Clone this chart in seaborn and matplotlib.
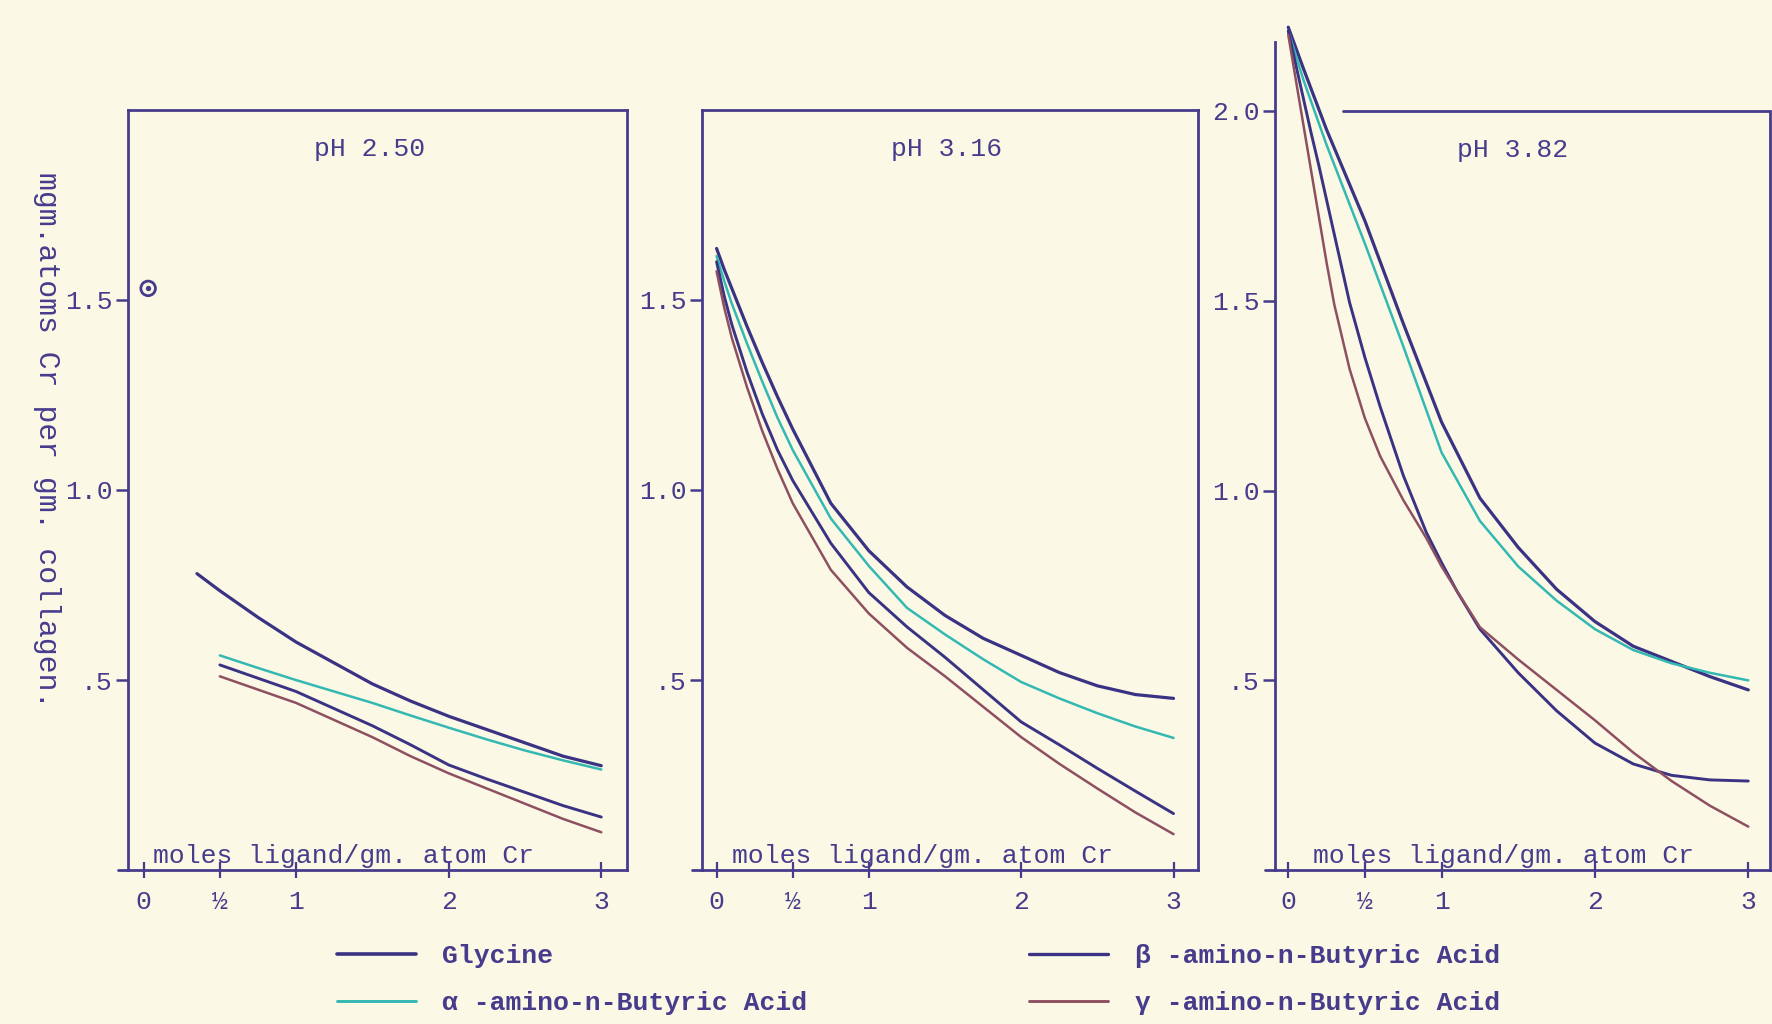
import numpy as np
import pandas as pd
import matplotlib
matplotlib.use("Agg")
import matplotlib.pyplot as plt
from matplotlib.lines import Line2D
import seaborn as sns

# ---------------- data ----------------
ligands = ["Glycine", "α -amino-n-Butyric Acid", "β -amino-n-Butyric Acid", "γ -amino-n-Butyric Acid"]
panel_titles = ["pH 2.50", "pH 3.16", "pH 3.82"]

# pH 2.50
p1_gly_x = [0.35, 0.5, 0.75, 1.0, 1.25, 1.5, 1.75, 2.0, 2.25, 2.5, 2.75, 3.0]
p1_gly_y = [0.78, 0.735, 0.665, 0.60, 0.545, 0.49, 0.445, 0.405, 0.37, 0.335, 0.30, 0.275]
p1_x = [0.5, 0.75, 1.0, 1.25, 1.5, 1.75, 2.0, 2.25, 2.5, 2.75, 3.0]
p1_alpha_y = [0.565, 0.532, 0.50, 0.47, 0.44, 0.407, 0.375, 0.344, 0.315, 0.289, 0.265]
p1_beta_y = [0.54, 0.505, 0.47, 0.425, 0.38, 0.33, 0.277, 0.24, 0.205, 0.17, 0.14]
p1_gamma_y = [0.51, 0.475, 0.44, 0.395, 0.35, 0.30, 0.255, 0.215, 0.175, 0.135, 0.10]
p1_point_x = [0.03]
p1_point_y = [1.53]

# pH 3.16
p2_x = [0.0, 0.05, 0.1, 0.2, 0.3, 0.4, 0.5, 0.75, 1.0, 1.25, 1.5, 1.75, 2.0, 2.25, 2.5, 2.75, 3.0]
p2_gly_y = [1.635, 1.58, 1.53, 1.43, 1.335, 1.245, 1.16, 0.965, 0.84, 0.745, 0.67, 0.61, 0.565, 0.52, 0.485, 0.462, 0.452]
p2_alpha_y = [1.615, 1.55, 1.49, 1.385, 1.285, 1.19, 1.105, 0.925, 0.80, 0.69, 0.62, 0.555, 0.495, 0.452, 0.413, 0.378, 0.348]
p2_beta_y = [1.60, 1.51, 1.435, 1.31, 1.20, 1.105, 1.025, 0.86, 0.73, 0.64, 0.56, 0.475, 0.39, 0.33, 0.268, 0.208, 0.149]
p2_gamma_y = [1.575, 1.48, 1.40, 1.27, 1.155, 1.055, 0.965, 0.79, 0.675, 0.585, 0.51, 0.43, 0.35, 0.28, 0.215, 0.152, 0.095]

# pH 3.82
p3_top_x = [0.0, 0.1, 0.25, 0.5, 0.75, 1.0, 1.25, 1.5, 1.75, 2.0, 2.25, 2.5, 2.75, 3.0]
p3_gly_y = [2.22, 2.11, 1.95, 1.71, 1.44, 1.18, 0.98, 0.85, 0.74, 0.655, 0.59, 0.55, 0.51, 0.475]
p3_alpha_y = [2.21, 2.08, 1.91, 1.65, 1.38, 1.10, 0.92, 0.80, 0.71, 0.635, 0.58, 0.545, 0.52, 0.50]
p3_low_x = [0.0, 0.05, 0.1, 0.15, 0.2, 0.25, 0.3, 0.4, 0.5, 0.6, 0.75, 0.9, 1.0, 1.1, 1.25, 1.5, 1.75, 2.0, 2.25, 2.5, 2.75, 3.0]
p3_beta_y = [2.21, 2.12, 2.03, 1.94, 1.855, 1.765, 1.675, 1.495, 1.35, 1.22, 1.04, 0.89, 0.81, 0.735, 0.635, 0.52, 0.42, 0.335, 0.28, 0.25, 0.238, 0.235]
p3_gamma_y = [2.20, 2.08, 1.96, 1.84, 1.72, 1.60, 1.49, 1.32, 1.19, 1.09, 0.975, 0.875, 0.80, 0.735, 0.64, 0.555, 0.475, 0.395, 0.31, 0.235, 0.17, 0.115]

x_ticks = [0, 0.5, 1, 2, 3]
x_tick_labels = ["0", "½", "1", "2", "3"]
y_ticks_12 = [0.5, 1.0, 1.5]
y_tick_labels_12 = [".5", "1.0", "1.5"]
y_ticks_3 = [0.5, 1.0, 1.5, 2.0]
y_tick_labels_3 = [".5", "1.0", "1.5", "2.0"]
x_label = "moles ligand/gm. atom Cr"
y_label = "mgm.atoms Cr per gm. collagen."

# ---------------- style ----------------
BG = "#FBF8E6"
INK = "#473C8C"
NAVY = "#3A3283"
TEAL = "#33B8B2"
BROWN = "#8E5060"
palette = {ligands[0]: NAVY, ligands[1]: TEAL, ligands[2]: NAVY, ligands[3]: BROWN}
widths = {ligands[0]: 2.3, ligands[1]: 1.8, ligands[2]: 2.1, ligands[3]: 1.8}

sns.set_theme(style="white")
plt.rcParams["font.family"] = ["Liberation Mono", "DejaVu Sans Mono"]
plt.rcParams["text.color"] = INK
plt.rcParams["axes.edgecolor"] = INK
FS = 19


def frame(series):
    rows = []
    for lig, xs, ys in series:
        for a, b in zip(xs, ys):
            rows.append({"x": a, "y": b, "ligand": lig})
    return pd.DataFrame(rows)


panels = [
    frame([(ligands[0], p1_gly_x, p1_gly_y), (ligands[1], p1_x, p1_alpha_y),
           (ligands[2], p1_x, p1_beta_y), (ligands[3], p1_x, p1_gamma_y)]),
    frame([(ligands[0], p2_x, p2_gly_y), (ligands[1], p2_x, p2_alpha_y),
           (ligands[2], p2_x, p2_beta_y), (ligands[3], p2_x, p2_gamma_y)]),
    frame([(ligands[0], p3_top_x, p3_gly_y), (ligands[1], p3_top_x, p3_alpha_y),
           (ligands[2], p3_low_x, p3_beta_y), (ligands[3], p3_low_x, p3_gamma_y)]),
]

fig = plt.figure(figsize=(17.72, 10.24), dpi=100, facecolor=BG)

W, H = 1568.0, 906.0
boxes = [(113, 555, 97), (621, 1060, 97), (1128, 1566, 37.5)]
xlims = [(-0.104, 3.17), (-0.097, 3.16), (-0.088, 3.14)]
ylims = [(0, 2.0), (0, 2.0), (0, 2.18)]
xlabel_x = [0.06, 0.10, 0.16]
title_x = [1.48, 1.51, 1.46]

for i, df in enumerate(panels):
    l, r, t = boxes[i]
    ax = fig.add_axes([l / W, 1 - 770 / H, (r - l) / W, (770 - t) / H])
    ax.set_facecolor(BG)
    for lig in ligands:
        sub = df[df["ligand"] == lig]
        sns.lineplot(data=sub, x="x", y="y", ax=ax, color=palette[lig],
                     lw=widths[lig], estimator=None, sort=False, legend=False,
                     clip_on=False, zorder=3)
    ax.set_xlim(*xlims[i])
    ax.set_ylim(*ylims[i])
    ax.set_xlabel("")
    ax.set_ylabel("")
    ax.set_xticks(x_ticks)
    ax.set_xticklabels(x_tick_labels, fontsize=FS, color=INK)
    if i < 2:
        ax.set_yticks(y_ticks_12)
        ax.set_yticklabels(y_tick_labels_12, fontsize=FS, color=INK)
    else:
        ax.set_yticks(y_ticks_3)
        ax.set_yticklabels(y_tick_labels_3, fontsize=FS, color=INK)
    ax.tick_params(axis="y", direction="out", length=9, width=1.8, color=INK, pad=2, left=True)
    ax.tick_params(axis="x", direction="inout", length=12, width=1.6, color=INK, pad=8, bottom=True)
    for s in ax.spines.values():
        s.set_linewidth(2.0)
        s.set_color(INK)
    ax.plot([-0.02, 0], [0, 0], transform=ax.transAxes, color=INK, lw=2.0, clip_on=False)
    if i == 2:
        ax.spines["top"].set_visible(False)
        ax.spines["right"].set_bounds(0, 2.0)
        ax.axhline(2.0, xmin=0.137, xmax=1.0, color=INK, lw=2.0)
    if i == 0:
        ax.scatter(p1_point_x, p1_point_y, s=110, facecolors="none", edgecolors=INK,
                   linewidths=2.0, zorder=4, clip_on=False)
        ax.scatter(p1_point_x, p1_point_y, s=8, color=INK, zorder=4, clip_on=False)
    ax.text(title_x[i], 1.896, panel_titles[i], fontsize=FS, ha="center", va="center", color=INK)
    ax.text(xlabel_x[i], 0.02, x_label, fontsize=FS, ha="left", va="baseline", color=INK)

fig.text(42 / W, 1 - 389 / H, y_label, rotation=-90, ha="center", va="center",
         fontsize=21.5, color=INK)

handles = [Line2D([], [], color=palette[lig], lw=widths[lig] + 0.3) for lig in ligands]
fig.legend(handles, ligands, ncol=2, loc="upper left", bbox_to_anchor=(298 / W, 1 - 835 / H),
           frameon=False, fontsize=FS, handlelength=3.0, handletextpad=1.0,
           columnspacing=8.4, labelspacing=0.89, borderpad=0, borderaxespad=0,
           labelcolor=INK, prop={"weight": "bold", "size": FS})

fig.savefig("out.png", dpi=100, facecolor=BG)
